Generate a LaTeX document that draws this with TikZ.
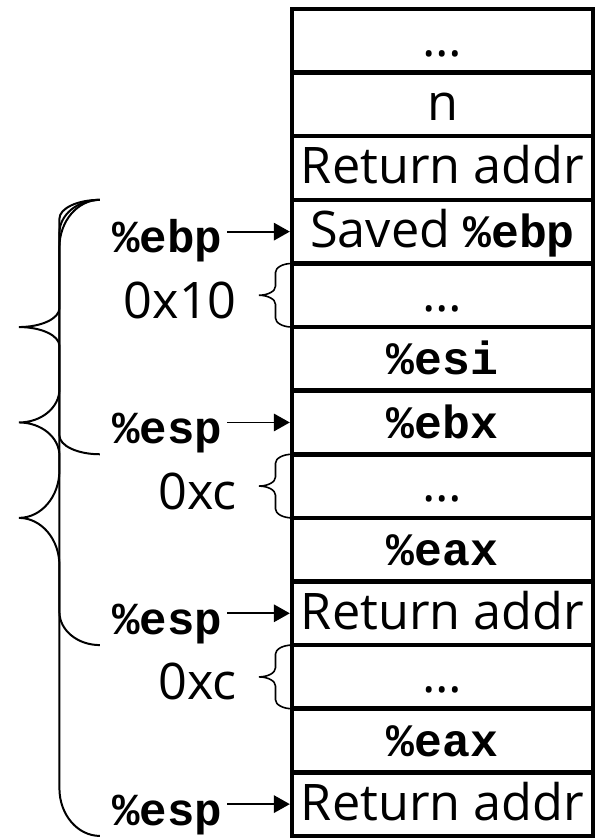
\documentclass[tikz,border=0pt]{standalone}
\usepackage{fontspec}
\setmainfont{Open Sans}
\setmonofont{Liberation Mono}
\usetikzlibrary{positioning, arrows.meta, calc}

% register names in bold typewriter
\newcommand{\regname}[1]{{\ttfamily\bfseries\fontsize{35pt}{40pt}\selectfont\%#1}}

% curly brace opening to the right: [style]{top end}{bottom end}{half width}{curve height}
\newcommand{\curly}[5][]{%
  \draw[#1] (#2) arc[start angle=90, end angle=180, x radius=#4, y radius=#5]
    -- ($(#2)!.5!(#3)+(-#4,#5)$)
    arc[start angle=0, end angle=-90, x radius=#4, y radius=#5]
    arc[start angle=90, end angle=0, x radius=#4, y radius=#5]
    -- ($(#3)+(-#4,#5)$)
    arc[start angle=180, end angle=270, x radius=#4, y radius=#5];
}

\begin{document}
\begin{tikzpicture}[
        cell/.style = {draw, line width=3.4pt, outer sep=0pt, inner sep=0pt, minimum width=7.97cm, minimum height=1.685cm, text height=30pt, text depth=6pt, font=\fontsize{38pt}{44pt}\selectfont},
        lbl/.style = {inner sep=0pt, anchor=base east, font=\ttfamily\bfseries\fontsize{34.5pt}{40pt}\selectfont},
        ofs/.style = {inner sep=0pt, font=\fontsize{38pt}{44pt}\selectfont},
        ptr/.style = {-{Triangle[length=0.42cm, width=0.46cm]}, line width=1.3pt, shorten >=0.06cm},
        bigcurly/.style = {line width=1.5pt},
        smallcurly/.style = {line width=1.2pt}
    ]
        \useasboundingbox (0,0) rectangle (16,-22.225);

        % the stack, top to bottom
        \node[cell] (s1) at (11.722,-1.081) {\ldots};
        \node[cell, below=0cm of s1] (s2) {n};
        \node[cell, below=0cm of s2] (s3) {Return addr};
        \node[cell, below=0cm of s3] (s4) {Saved \regname{ebp}};
        \node[cell, below=0cm of s4] (s5) {\ldots};
        \node[cell, below=0cm of s5] (s6) {\regname{esi}};
        \node[cell, below=0cm of s6] (s7) {\regname{ebx}};
        \node[cell, below=0cm of s7] (s8) {\ldots};
        \node[cell, below=0cm of s8] (s9) {\regname{eax}};
        \node[cell, below=0cm of s9] (s10) {Return addr};
        \node[cell, below=0cm of s10] (s11) {\ldots};
        \node[cell, below=0cm of s11] (s12) {\regname{eax}};
        \node[cell, below=0cm of s12] (s13) {Return addr};

        % frame and stack pointers
        \coordinate[left=1.72cm of s4.west] (ebp-tail);
        \node[lbl, xshift=-0.13cm, yshift=-0.56cm] (ebp) at (ebp-tail) {\%ebp};
        \draw[ptr] (ebp-tail) -- (s4.west);

        \coordinate[left=1.72cm of s7.west] (esp1-tail);
        \node[lbl, xshift=-0.13cm, yshift=-0.56cm] (esp1) at (esp1-tail) {\%esp};
        \draw[ptr] (esp1-tail) -- (s7.west);

        \coordinate[left=1.72cm of s10.west] (esp2-tail);
        \node[lbl, xshift=-0.13cm, yshift=-0.56cm] (esp2) at (esp2-tail) {\%esp};
        \draw[ptr] (esp2-tail) -- (s10.west);

        \coordinate[left=1.72cm of s13.west] (esp3-tail);
        \node[lbl, xshift=-0.13cm, yshift=-0.56cm] (esp3) at (esp3-tail) {\%esp};
        \draw[ptr] (esp3-tail) -- (s13.west);

        % padding sizes
        \node[ofs, left=1.46cm of s5.west, yshift=-0.13cm] (pad1) {0x10};
        \curly[smallcurly]{s5.north west}{s5.south west}{0.44cm}{0.24cm}
        \node[ofs, left=1.46cm of s8.west, yshift=-0.13cm] (pad2) {0xc};
        \curly[smallcurly]{s8.north west}{s8.south west}{0.44cm}{0.24cm}
        \node[ofs, left=1.46cm of s11.west, yshift=-0.13cm] (pad3) {0xc};
        \curly[smallcurly]{s11.north west}{s11.south west}{0.44cm}{0.24cm}

        % frames of the three calls
        \coordinate[left=5.09cm of s4.north west] (frame-top);
        \coordinate[left=5.09cm of s7.south west] (frame1);
        \coordinate[left=5.09cm of s10.south west] (frame2);
        \coordinate[left=5.09cm of s13.south west] (frame3);
        \curly[bigcurly]{frame-top}{frame1}{1.073cm}{0.5cm}
        \curly[bigcurly]{frame-top}{frame2}{1.073cm}{0.88cm}
        \curly[bigcurly]{frame-top}{frame3}{1.073cm}{1.26cm}
\end{tikzpicture}
\end{document}
